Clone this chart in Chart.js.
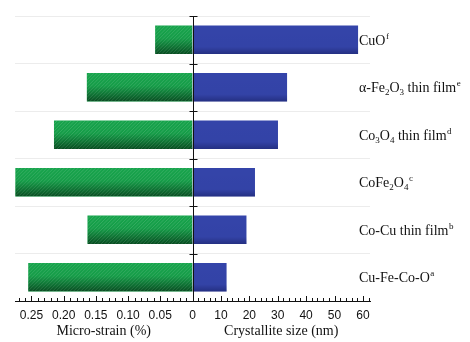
<!DOCTYPE html>
<html>
<head>
<meta charset="utf-8">
<script src="https://cdn.jsdelivr.net/npm/chart.js@4/dist/chart.umd.min.js"></script>
<style>
  html, body { margin: 0; padding: 0; background: #ffffff; }
  #wrap { width: 470px; height: 342px; }
</style>
</head>
<body>
<div id="wrap"><canvas id="c" width="470" height="342"></canvas></div>
<script>
// ---- data ----
// markup in labels: _x = subscript char, ^x = superscript char
const categories = ['CuO^f', 'α-Fe_2O_3 thin film^e', 'Co_3O_4 thin film^d', 'CoFe_2O_4^c', 'Co-Cu thin film^b', 'Cu-Fe-Co-O^a'];
const microStrain = [0.058, 0.164, 0.215, 0.275, 0.163, 0.255];   // %
const crystalliteSize = [58.3, 33.3, 30.1, 22.0, 19.0, 12.0];      // nm
const strainTicks = [0.25, 0.20, 0.15, 0.10, 0.05];
const strainTickLabels = ['0.25', '0.20', '0.15', '0.10', '0.05'];
const sizeTicks = [0, 10, 20, 30, 40, 50, 60];
const strainMax = 0.2755;
const sizeMax = 62.5;
const strainMinorStep = 0.01;
const sizeMinorStep = 2;

const plainLabels = categories.map(s => s.replace(/[_^]/g, ''));

function parseRich(s) {
  const segs = [];
  let i = 0;
  while (i < s.length) {
    const ch = s[i];
    if ((ch === '_' || ch === '^') && i + 1 < s.length) {
      segs.push({ t: s[i + 1], k: ch === '_' ? 'sub' : 'sup' });
      i += 2;
    } else {
      if (segs.length && segs[segs.length - 1].k === 'n') segs[segs.length - 1].t += ch;
      else segs.push({ t: ch, k: 'n' });
      i++;
    }
  }
  return segs;
}

const serif = '"Liberation Serif", "Times New Roman", serif';

const overlayPlugin = {
  id: 'overlay',
  afterDatasetsDraw(chart) {
    const ctx = chart.ctx;
    const ca = chart.chartArea;
    // green bars: gradient + hatch
    const metaL = chart.getDatasetMeta(0);
    metaL.data.forEach(bar => {
      const left = Math.min(bar.x, bar.base), right = Math.max(bar.x, bar.base);
      const top = bar.y - bar.height / 2, h = bar.height;
      ctx.save();
      ctx.beginPath();
      ctx.rect(left, top, right - left, h);
      ctx.clip();
      const g = ctx.createLinearGradient(0, top, 0, top + h);
      g.addColorStop(0, 'rgba(0,40,15,0)');
      g.addColorStop(0.45, 'rgba(0,40,15,0.06)');
      g.addColorStop(1, 'rgba(0,30,10,0.65)');
      ctx.fillStyle = g;
      ctx.fillRect(left, top, right - left, h);
      ctx.strokeStyle = 'rgba(255,255,255,0.13)';
      ctx.lineWidth = 1;
      ctx.beginPath();
      for (let x = left - h; x < right + h; x += 3.5) {
        ctx.moveTo(x, top + h);
        ctx.lineTo(x + h, top);
      }
      ctx.stroke();
      ctx.restore();
    });
    // blue bars: slight darker bottom
    const metaR = chart.getDatasetMeta(1);
    metaR.data.forEach(bar => {
      const left = Math.min(bar.x, bar.base), right = Math.max(bar.x, bar.base);
      const top = bar.y - bar.height / 2, h = bar.height;
      const g = ctx.createLinearGradient(0, top, 0, top + h);
      g.addColorStop(0, 'rgba(0,0,40,0)');
      g.addColorStop(0.75, 'rgba(0,0,40,0.02)');
      g.addColorStop(1, 'rgba(0,0,40,0.3)');
      ctx.save();
      ctx.fillStyle = g;
      ctx.fillRect(left, top, right - left, h);
      ctx.restore();
    });
    // center vertical axis with boundary ticks
    const xr = chart.scales.xr, y = chart.scales.y;
    const x0 = Math.round(xr.getPixelForValue(0)) + 0.5;
    ctx.save();
    ctx.strokeStyle = '#111';
    ctx.lineWidth = 1;
    ctx.beginPath();
    ctx.moveTo(x0, ca.top);
    ctx.lineTo(x0, ca.bottom);
    const step = (y.getPixelForValue(1) - y.getPixelForValue(0));
    for (let i = 0; i < categories.length; i++) {
      const yy = Math.round(y.getPixelForValue(i) - step / 2) + 0.5;
      ctx.moveTo(x0 - 4, yy);
      ctx.lineTo(x0 + 4, yy);
    }
    ctx.stroke();
    ctx.restore();
  },
  afterDraw(chart) {
    const ctx = chart.ctx;
    const xl = chart.scales.xl, xr = chart.scales.xr, y = chart.scales.y;
    // inward tick marks (major and minor)
    ctx.save();
    ctx.strokeStyle = '#111';
    ctx.lineWidth = 1;
    ctx.beginPath();
    const base = xr.top;
    const nL = Math.floor(strainMax / strainMinorStep + 1e-9);
    for (let i = 1; i <= nL; i++) {
      const v = i * strainMinorStep;
      const px = Math.round(xl.getPixelForValue(v)) + 0.5;
      const major = i % 5 === 0;
      ctx.moveTo(px, base);
      ctx.lineTo(px, base - (major ? 5 : 3));
    }
    const nR = Math.floor(sizeMax / sizeMinorStep + 1e-9);
    for (let i = 1; i <= nR; i++) {
      const v = i * sizeMinorStep;
      const px = Math.round(xr.getPixelForValue(v)) + 0.5;
      const major = i % 5 === 0;
      ctx.moveTo(px, base);
      ctx.lineTo(px, base - (major ? 5 : 3));
    }
    ctx.stroke();
    // category labels with sub/superscripts
    ctx.fillStyle = '#111';
    ctx.textBaseline = 'alphabetic';
    const lx = xr.getPixelForValue(sizeMax) - 11;
    categories.forEach((lab, i) => {
      const cy = y.getPixelForValue(i);
      const baseY = cy + 5;
      let x = lx;
      parseRich(lab).forEach(seg => {
        if (seg.k === 'n') {
          ctx.font = '14px ' + serif;
          ctx.fillText(seg.t, x, baseY);
        } else if (seg.k === 'sub') {
          ctx.font = '9px ' + serif;
          ctx.fillText(seg.t, x, baseY + 3);
        } else {
          ctx.font = '9px ' + serif;
          ctx.fillText(seg.t, x + 0.5, baseY - 6);
        }
        x += ctx.measureText(seg.t).width + (seg.k === 'sup' ? 0.5 : 0);
      });
    });
    ctx.restore();
  }
};

new Chart(document.getElementById('c'), {
  type: 'bar',
  data: {
    labels: plainLabels,
    datasets: [
      {
        label: 'Micro-strain (%)',
        data: microStrain,
        xAxisID: 'xl',
        backgroundColor: '#17a44c',
        borderWidth: 0,
        grouped: false,
        barPercentage: 0.6,
        categoryPercentage: 1.0
      },
      {
        label: 'Crystallite size (nm)',
        data: crystalliteSize,
        xAxisID: 'xr',
        backgroundColor: '#3444a9',
        borderWidth: 0,
        grouped: false,
        barPercentage: 0.6,
        categoryPercentage: 1.0
      }
    ]
  },
  options: {
    indexAxis: 'y',
    responsive: false,
    animation: false,
    devicePixelRatio: 1,
    layout: { padding: { left: 15, right: 100, top: 16, bottom: 0 } },
    plugins: { legend: { display: false }, tooltip: { enabled: false }, title: { display: false } },
    scales: {
      y: {
        type: 'category',
        position: 'left',
        offset: true,
        ticks: { display: false },
        grid: { offset: true, color: '#ececec', drawTicks: false, lineWidth: 1 },
        border: { display: false },
        afterFit(s) { s.width = 0; }
      },
      xl: {
        type: 'linear',
        position: 'bottom',
        stack: 'x',
        stackWeight: 1,
        reverse: true,
        min: 0,
        max: strainMax,
        afterBuildTicks(s) { s.ticks = strainTicks.map(v => ({ value: v })); },
        afterFit(s) { s.height = 41; },
        ticks: {
          callback: (v, i) => strainTickLabels[i],
          color: '#111',
          font: { family: '"Liberation Sans", Arial, sans-serif', size: 12 },
          padding: 7,
          maxRotation: 0,
          autoSkip: false
        },
        grid: { display: false, drawTicks: false },
        border: { display: true, color: '#111', width: 1 },
        title: {
          display: true,
          text: 'Micro-strain (%)',
          color: '#111',
          font: { family: serif, size: 14 },
          padding: { top: 0, bottom: 2 }
        }
      },
      xr: {
        type: 'linear',
        position: 'bottom',
        stack: 'x',
        stackWeight: 1,
        min: 0,
        max: sizeMax,
        afterBuildTicks(s) { s.ticks = sizeTicks.map(v => ({ value: v })); },
        afterFit(s) { s.height = 41; },
        ticks: {
          callback: v => String(v),
          color: '#111',
          font: { family: '"Liberation Sans", Arial, sans-serif', size: 12 },
          padding: 7,
          maxRotation: 0,
          autoSkip: false
        },
        grid: { display: false, drawTicks: false },
        border: { display: true, color: '#111', width: 1 },
        title: {
          display: true,
          text: 'Crystallite size (nm)',
          color: '#111',
          font: { family: serif, size: 14 },
          padding: { top: 0, bottom: 2 }
        }
      }
    }
  },
  plugins: [overlayPlugin]
});
</script>
</body>
</html>
